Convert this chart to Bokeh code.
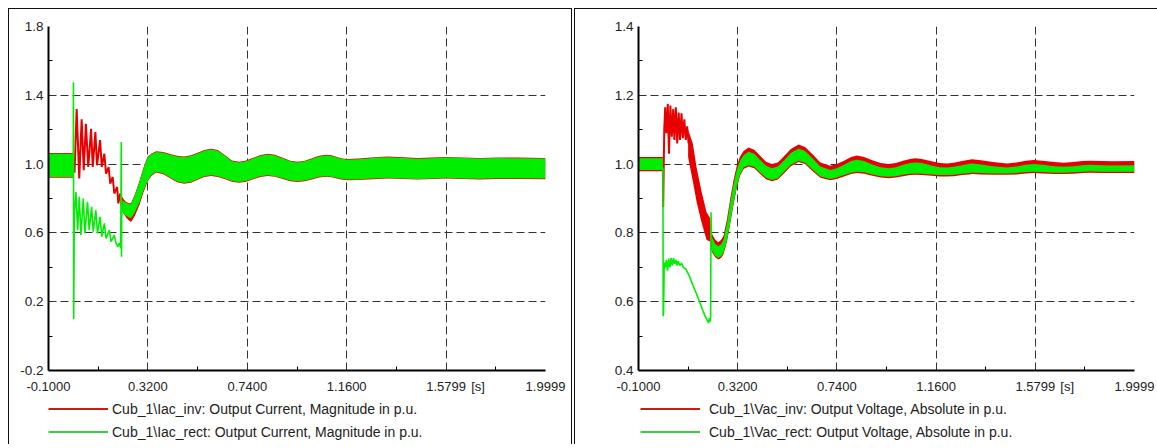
from bokeh.plotting import figure
from bokeh.layouts import row, column
from bokeh.models import Range1d, FixedTicker, PrintfTickFormatter, Legend, LegendItem
from bokeh.embed import file_html
from bokeh.resources import INLINE

# ---------------- ticks ----------------
x_ticks = [-0.1, 0.32, 0.74, 1.16, 1.5799, 1.9999]
x_minor = [0.11, 0.53, 0.95, 1.37, 1.79]
x_unit_pos = 1.715
x_unit_label = "[s]"
yl_ticks = [-0.2, 0.2, 0.6, 1.0, 1.4, 1.8]
yl_minor = [0.0, 0.4, 0.8, 1.2, 1.6]
yr_ticks = [0.4, 0.6, 0.8, 1.0, 1.2, 1.4]
yr_minor = [0.5, 0.7, 0.9, 1.1, 1.3]

label_iinv = "Cub_1\\Iac_inv: Output Current, Magnitude in p.u."
label_irect = "Cub_1\\Iac_rect: Output Current, Magnitude in p.u."
label_vinv = "Cub_1\\Vac_inv: Output Voltage, Absolute in p.u."
label_vrect = "Cub_1\\Vac_rect: Output Voltage, Absolute in p.u."

# ---------------- left: currents ----------------
# Iac_inv (red)
iinv_pre_t = [-0.1, 0.0045]
iinv_pre_lo = [0.92, 0.92]
iinv_pre_hi = [1.064, 1.064]
iinv_tr_t = [0.0045, 0.010, 0.019, 0.030, 0.040, 0.049, 0.058, 0.068, 0.080, 0.087,
             0.098, 0.105, 0.118, 0.125, 0.136, 0.143, 0.154, 0.161, 0.171, 0.178,
             0.190, 0.195, 0.203, 0.208]
iinv_tr_y = [1.0, 0.95, 1.32, 0.916, 1.26, 0.964, 1.235, 0.983, 1.205, 0.983,
             1.186, 0.993, 1.14, 0.983, 1.06, 0.945, 0.983, 0.887, 0.925, 0.829,
             0.867, 0.771, 0.829, 0.76]
iinv_post_t = [0.205, 0.215, 0.228, 0.24, 0.249, 0.265, 0.285, 0.30, 0.319, 0.335,
               0.355, 0.385, 0.414, 0.443, 0.473, 0.502, 0.530, 0.558, 0.587, 0.616,
               0.646, 0.675, 0.705, 0.735, 0.765, 0.795, 0.826, 0.857, 0.890, 0.921,
               0.953, 0.983, 1.013, 1.043, 1.073, 1.096, 1.119, 1.142, 1.165, 1.21,
               1.25, 1.29, 1.334, 1.40, 1.46, 1.52, 1.58, 1.65, 1.72, 1.80, 1.88, 1.9999]
iinv_post_hi = [0.83, 0.80, 0.779, 0.772, 0.774, 0.824, 0.904, 0.974, 1.044, 1.062,
                1.074, 1.07, 1.059, 1.048, 1.044, 1.051, 1.066, 1.082, 1.089, 1.082,
                1.052, 1.021, 1.014, 1.021, 1.037, 1.053, 1.06, 1.054, 1.037, 1.02,
                1.014, 1.02, 1.034, 1.048, 1.054, 1.051, 1.042, 1.033, 1.03, 1.032,
                1.037, 1.042, 1.044, 1.04, 1.035, 1.038, 1.042, 1.039, 1.036, 1.039, 1.038, 1.036]
iinv_post_lo = [0.76, 0.72, 0.69, 0.672, 0.664, 0.70, 0.765, 0.83, 0.90, 0.931,
                0.951, 0.941, 0.918, 0.895, 0.886, 0.892, 0.909, 0.925, 0.931, 0.925,
                0.912, 0.898, 0.892, 0.898, 0.912, 0.925, 0.931, 0.926, 0.914, 0.901,
                0.896, 0.90, 0.911, 0.922, 0.926, 0.923, 0.916, 0.909, 0.906, 0.907,
                0.911, 0.914, 0.916, 0.913, 0.91, 0.913, 0.916, 0.913, 0.911, 0.914, 0.914, 0.912]

# Iac_rect (green)
irect_pre_t = [-0.1, 0.0045]
irect_pre_lo = [0.925, 0.925]
irect_pre_hi = [1.06, 1.06]
irect_tr_t = [0.0045, 0.0055, 0.0065, 0.009, 0.016, 0.023, 0.030, 0.037, 0.047, 0.054,
              0.065, 0.072, 0.082, 0.089, 0.100, 0.107, 0.118, 0.125, 0.136, 0.143,
              0.157, 0.164, 0.178, 0.185, 0.192, 0.199, 0.205, 0.2075, 0.2085, 0.2095, 0.212]
irect_tr_y = [1.0, 1.476, 0.10, 0.70, 0.838, 0.616, 0.81, 0.587, 0.80, 0.597,
              0.78, 0.616, 0.751, 0.607, 0.732, 0.597, 0.693, 0.578, 0.655, 0.568,
              0.616, 0.549, 0.587, 0.54, 0.52, 0.54, 0.51, 1.128, 0.462, 0.76, 0.75]
irect_post_t = [0.212, 0.228, 0.24, 0.249, 0.265, 0.285, 0.30, 0.319, 0.335,
                0.355, 0.385, 0.414, 0.443, 0.473, 0.502, 0.530, 0.558, 0.587, 0.616,
                0.646, 0.675, 0.705, 0.735, 0.765, 0.795, 0.826, 0.857, 0.890, 0.921,
                0.953, 0.983, 1.013, 1.043, 1.073, 1.096, 1.119, 1.142, 1.165, 1.21,
                1.25, 1.29, 1.334, 1.40, 1.46, 1.52, 1.58, 1.65, 1.72, 1.80, 1.88, 1.9999]
irect_post_hi = [0.79, 0.775, 0.768, 0.77, 0.82, 0.90, 0.97, 1.04, 1.058,
                 1.07, 1.066, 1.055, 1.044, 1.04, 1.047, 1.062, 1.078, 1.085, 1.078,
                 1.048, 1.017, 1.01, 1.017, 1.033, 1.049, 1.056, 1.05, 1.033, 1.016,
                 1.01, 1.016, 1.03, 1.044, 1.05, 1.047, 1.038, 1.029, 1.026, 1.028,
                 1.033, 1.038, 1.04, 1.036, 1.031, 1.034, 1.038, 1.035, 1.032, 1.035, 1.034, 1.032]
irect_post_lo = [0.715, 0.70, 0.69, 0.685, 0.72, 0.78, 0.84, 0.905, 0.935,
                 0.955, 0.945, 0.922, 0.899, 0.89, 0.896, 0.913, 0.929, 0.935, 0.929,
                 0.916, 0.902, 0.896, 0.902, 0.916, 0.929, 0.935, 0.93, 0.918, 0.905,
                 0.90, 0.904, 0.915, 0.926, 0.93, 0.927, 0.92, 0.913, 0.91, 0.911,
                 0.915, 0.918, 0.92, 0.917, 0.914, 0.917, 0.92, 0.917, 0.915, 0.918, 0.918, 0.916]

# ---------------- right: voltages ----------------
# Vac_inv (red)
vinv_pre_t = [-0.1, 0.0035]
vinv_pre_lo = [0.979, 0.979]
vinv_pre_hi = [1.021, 1.021]
vinv_tr_t = [0.0035, 0.0045, 0.009, 0.013, 0.018, 0.024, 0.029, 0.035, 0.041, 0.047,
             0.052, 0.058, 0.064, 0.070, 0.076, 0.082, 0.088, 0.094, 0.100, 0.106, 0.112]
vinv_tr_y = [1.0, 0.875, 1.10, 1.165, 1.09, 1.175, 1.03, 1.17, 1.08, 1.16,
             1.07, 1.165, 1.06, 1.15, 1.07, 1.148, 1.075, 1.13, 1.07, 1.11, 1.06]
vinv_post_t = [0.11, 0.13, 0.146, 0.167, 0.188, 0.202,
               0.209, 0.225, 0.238, 0.25, 0.26, 0.275, 0.288, 0.302, 0.316, 0.33,
               0.345, 0.366, 0.39, 0.415, 0.44, 0.465, 0.49, 0.515, 0.545, 0.578,
               0.605, 0.635, 0.67, 0.712, 0.74, 0.77, 0.80, 0.825, 0.855, 0.89,
               0.925, 0.959, 0.99, 1.02, 1.05, 1.072, 1.10, 1.14, 1.175, 1.206,
               1.235, 1.27, 1.30, 1.312, 1.35, 1.40, 1.46, 1.50, 1.54, 1.573,
               1.61, 1.66, 1.70, 1.74, 1.78, 1.813, 1.86, 1.91, 1.9999]
vinv_post_hi = [1.10, 1.06, 0.99, 0.92, 0.86, 0.845,
                0.80, 0.78, 0.773, 0.78, 0.792, 0.842, 0.898, 0.952, 0.995, 1.022,
                1.038, 1.048, 1.042, 1.024, 1.007, 1.0, 1.005, 1.022, 1.044, 1.057,
                1.05, 1.03, 1.005, 0.995, 1.0, 1.01, 1.021, 1.025, 1.021, 1.011,
                1.003, 1.0, 1.003, 1.01, 1.015, 1.017, 1.015, 1.008, 1.003, 1.002,
                1.004, 1.009, 1.013, 1.014, 1.011, 1.006, 1.002, 1.005, 1.01, 1.012,
                1.01, 1.006, 1.004, 1.006, 1.009, 1.01, 1.009, 1.008, 1.009]
vinv_post_lo = [1.02, 0.95, 0.89, 0.83, 0.78, 0.775,
                0.747, 0.729, 0.723, 0.728, 0.738, 0.776, 0.825, 0.881, 0.93, 0.966,
                0.986, 0.993, 0.988, 0.971, 0.956, 0.95, 0.955, 0.972, 0.994, 1.006,
                1.0, 0.981, 0.96, 0.953, 0.957, 0.964, 0.971, 0.974, 0.972, 0.966,
                0.961, 0.959, 0.961, 0.965, 0.968, 0.969, 0.968, 0.966, 0.964, 0.964,
                0.965, 0.968, 0.97, 0.971, 0.97, 0.969, 0.969, 0.97, 0.973, 0.974,
                0.973, 0.971, 0.971, 0.972, 0.974, 0.975, 0.974, 0.974, 0.974]

# Vac_rect (green)
vrect_pre_t = [-0.1, 0.0035]
vrect_pre_lo = [0.983, 0.983]
vrect_pre_hi = [1.017, 1.017]
vrect_tr_t = [0.0035, 0.0045, 0.006, 0.009, 0.014, 0.018, 0.023, 0.028, 0.033, 0.038,
              0.043, 0.048, 0.053, 0.058, 0.063, 0.068, 0.075, 0.082, 0.090, 0.100,
              0.115, 0.132, 0.147, 0.160, 0.172, 0.182, 0.190, 0.197, 0.200, 0.203,
              0.2055, 0.207, 0.209]
vrect_tr_y = [0.99, 0.558, 0.565, 0.713, 0.70, 0.722, 0.69, 0.725, 0.70, 0.727,
              0.705, 0.727, 0.71, 0.722, 0.705, 0.718, 0.705, 0.712, 0.70, 0.695,
              0.675, 0.645, 0.62, 0.597, 0.575, 0.558, 0.548, 0.538, 0.552, 0.542,
              0.56, 0.86, 0.79]
vrect_post_t = [0.209, 0.225, 0.238, 0.25, 0.26, 0.275, 0.288, 0.302, 0.316, 0.33,
                0.345, 0.366, 0.39, 0.415, 0.44, 0.465, 0.49, 0.515, 0.545, 0.578,
                0.605, 0.635, 0.67, 0.712, 0.74, 0.77, 0.80, 0.825, 0.855, 0.89,
                0.925, 0.959, 0.99, 1.02, 1.05, 1.072, 1.10, 1.14, 1.175, 1.206,
                1.235, 1.27, 1.30, 1.312, 1.35, 1.40, 1.46, 1.50, 1.54, 1.573,
                1.61, 1.66, 1.70, 1.74, 1.78, 1.813, 1.86, 1.91, 1.9999]
vrect_post_hi = [0.79, 0.768, 0.761, 0.768, 0.78, 0.83, 0.886, 0.94, 0.983, 1.01,
                 1.026, 1.036, 1.03, 1.012, 0.995, 0.988, 0.993, 1.01, 1.032, 1.045,
                 1.038, 1.018, 0.993, 0.983, 0.988, 0.998, 1.009, 1.013, 1.009, 0.999,
                 0.991, 0.988, 0.991, 0.998, 1.003, 1.005, 1.003, 0.996, 0.991, 0.99,
                 0.992, 0.997, 1.001, 1.002, 0.999, 0.994, 0.99, 0.993, 0.998, 1.0,
                 0.998, 0.994, 0.992, 0.994, 0.997, 0.998, 0.997, 0.996, 0.997]
vrect_post_lo = [0.751, 0.733, 0.727, 0.732, 0.742, 0.78, 0.829, 0.885, 0.934, 0.97,
                 0.99, 0.997, 0.992, 0.975, 0.96, 0.954, 0.959, 0.976, 0.998, 1.01,
                 1.004, 0.985, 0.964, 0.957, 0.961, 0.968, 0.975, 0.978, 0.976, 0.97,
                 0.965, 0.963, 0.965, 0.969, 0.972, 0.973, 0.972, 0.97, 0.968, 0.968,
                 0.969, 0.972, 0.974, 0.975, 0.974, 0.973, 0.973, 0.974, 0.977, 0.978,
                 0.977, 0.975, 0.975, 0.976, 0.978, 0.979, 0.978, 0.978, 0.978]

# legend proxy renderers live outside the (0..1) view of the legend strip
legend_proxy_x = [5.0, 6.0]
legend_proxy_y = [5.0, 6.0]

RED = "#e80000"
GREEN = "#00ee00"
LEG_RED = "#cc1a1a"
LEG_GREEN = "#3ccf3c"
FONT = "Liberation Sans"


def make_panel(width, border_left, border_right, y_ticks, y_minor, y_range):
    p = figure(width=width, height=387, output_backend="svg", toolbar_location=None,
               x_range=Range1d(-0.1, 1.9999), y_range=Range1d(*y_range),
               min_border_left=border_left, min_border_right=border_right,
               min_border_top=17, min_border_bottom=25,
               background_fill_color="white", border_fill_color="white")
    p.outline_line_color = None
    p.xaxis.ticker = FixedTicker(ticks=x_ticks + [x_unit_pos], minor_ticks=x_minor)
    p.xaxis.major_label_overrides = {x_unit_pos: x_unit_label}
    p.xgrid.ticker = FixedTicker(ticks=x_ticks)
    p.yaxis.ticker = FixedTicker(ticks=y_ticks, minor_ticks=y_minor)
    p.xaxis.formatter = PrintfTickFormatter(format="%.4f")
    p.yaxis.formatter = PrintfTickFormatter(format="%.1f")
    for ax in (p.xaxis[0], p.yaxis[0]):
        ax.axis_line_width = 2
        ax.axis_line_color = "black"
        ax.major_tick_in = 0
        ax.major_tick_out = 0
        ax.minor_tick_in = 4
        ax.minor_tick_out = 0
        ax.minor_tick_line_color = "black"
        ax.minor_tick_line_width = 1
        ax.major_label_text_font = FONT
        ax.major_label_text_color = "#222222"
    p.xaxis.major_label_text_font_size = "13px"
    p.yaxis.major_label_text_font_size = "13.5px"
    p.xaxis.major_label_standoff = 8
    p.yaxis.major_label_standoff = 5
    for g in (p.xgrid[0], p.ygrid[0]):
        g.grid_line_color = "#333333"
        g.grid_line_dash = "8 4"
        g.grid_line_width = 1
    return p


def make_legend(width, labels, x0, standoff):
    q = figure(width=width, height=48, output_backend="svg", toolbar_location=None,
               x_range=Range1d(0, 1), y_range=Range1d(0, 1), min_border=0,
               background_fill_color="white", border_fill_color="white")
    q.axis.visible = False
    q.grid.visible = False
    q.outline_line_color = None
    r1 = q.line(legend_proxy_x, legend_proxy_y, line_color=LEG_RED, line_width=2)
    r2 = q.line(legend_proxy_x, legend_proxy_y, line_color=LEG_GREEN, line_width=2)
    leg = Legend(items=[LegendItem(label=labels[0], renderers=[r1]),
                        LegendItem(label=labels[1], renderers=[r2])],
                 location=(x0, 1), orientation="vertical", padding=0, margin=0,
                 spacing=0, label_height=23, glyph_height=23, glyph_width=60,
                 label_standoff=standoff, border_line_color=None, background_fill_alpha=0,
                 label_text_font=FONT, label_text_font_size="14px",
                 label_text_color="#222222")
    q.add_layout(leg, "center")
    return q


def draw(p, red_pre, red_tr, red_post, green_pre, green_tr, green_post):
    p.varea(x=red_pre[0], y1=red_pre[1], y2=red_pre[2], fill_color=RED)
    p.line(red_tr[0], red_tr[1], line_color=RED, line_width=2)
    p.varea(x=red_post[0], y1=red_post[1], y2=red_post[2], fill_color=RED)
    p.varea(x=green_pre[0], y1=green_pre[1], y2=green_pre[2], fill_color=GREEN)
    p.line(green_tr[0], green_tr[1], line_color=GREEN, line_width=1.6)
    p.varea(x=green_post[0], y1=green_post[1], y2=green_post[2], fill_color=GREEN)


left = make_panel(562, 39, 26, yl_ticks, yl_minor, (-0.2, 1.8))
draw(left,
     (iinv_pre_t, iinv_pre_lo, iinv_pre_hi), (iinv_tr_t, iinv_tr_y),
     (iinv_post_t, iinv_post_lo, iinv_post_hi),
     (irect_pre_t, irect_pre_lo, irect_pre_hi), (irect_tr_t, irect_tr_y),
     (irect_post_t, irect_post_lo, irect_post_hi))
left_leg = make_legend(562, (label_iinv, label_irect), 0, 4)

right = make_panel(582, 63, 23, yr_ticks, yr_minor, (0.4, 1.4))
draw(right,
     (vinv_pre_t, vinv_pre_lo, vinv_pre_hi), (vinv_tr_t, vinv_tr_y),
     (vinv_post_t, vinv_post_lo, vinv_post_hi),
     (vrect_pre_t, vrect_pre_lo, vrect_pre_hi), (vrect_tr_t, vrect_tr_y),
     (vrect_post_t, vrect_post_lo, vrect_post_hi))
right_leg = make_legend(582, (label_vinv, label_vrect), 2, 9)

left_panel = column(left, left_leg, spacing=0,
                    styles={"border-left": "1px solid #111", "border-top": "1px solid #111",
                            "border-right": "1px solid #111", "margin-left": "8px",
                            "margin-top": "8px"})
right_panel = column(right, right_leg, spacing=0,
                     styles={"border-left": "1px solid #111", "border-top": "1px solid #111",
                             "margin-left": "2px", "margin-top": "8px"})

layout = row(left_panel, right_panel)
open("out.html", "w").write(file_html(layout, INLINE))
